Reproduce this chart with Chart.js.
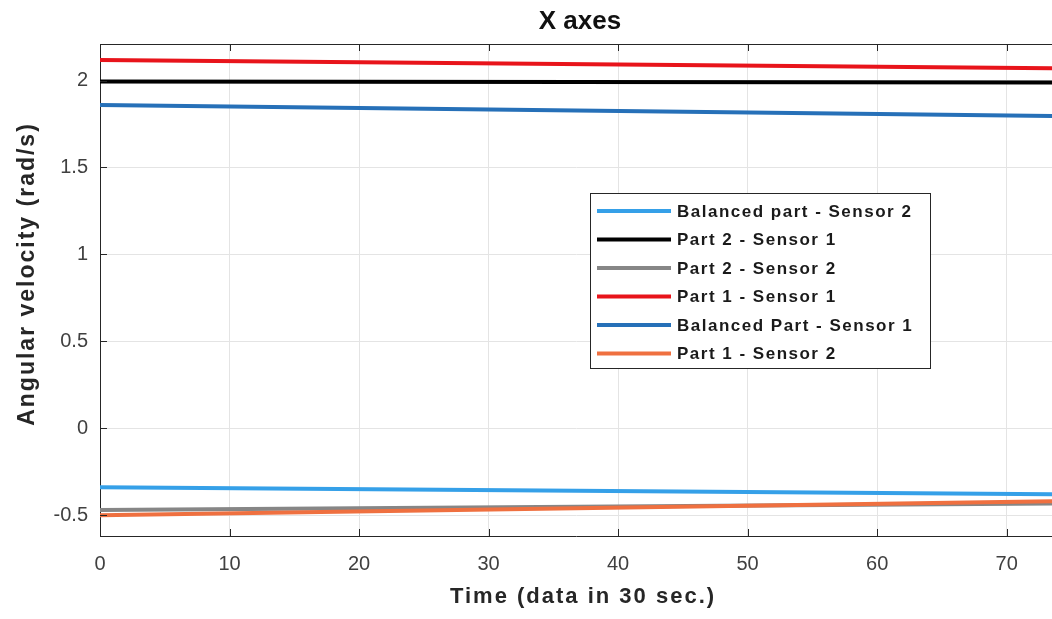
<!DOCTYPE html>
<html lang="en">
<head>
  <meta charset="UTF-8">
  <title>X axes</title>
  <script src="https://cdn.jsdelivr.net/npm/chart.js"></script>
  <style>
    html, body { margin: 0; padding: 0; background: #fff; }
    #wrap { width: 1052px; height: 619px; }
  </style>
</head>
<body>
  <div id="wrap"><canvas id="chart"></canvas></div>
  <script>
    // data (lines look straight, so endpoints only)
    const times = [0, 75];
    const balancedS2 = [-0.34, -0.38];
    const part2S1 = [1.995, 1.988];
    const part2S2 = [-0.47, -0.433];
    const part1S1 = [2.118, 2.07];
    const balancedS1 = [1.859, 1.795];
    const part1S2 = [-0.50, -0.418];

    const seriesNames = ['Balanced part - Sensor 2', 'Part 2 - Sensor 1', 'Part 2 - Sensor 2',
                         'Part 1 - Sensor 1', 'Balanced Part - Sensor 1', 'Part 1 - Sensor 2'];
    const seriesValues = [balancedS2, part2S1, part2S2, part1S1, balancedS1, part1S2];
    const seriesColors = ['#35a0e8', '#000000', '#868686', '#e8141b', '#2670b8', '#ef7040'];

    const xTicks = [0, 10, 20, 30, 40, 50, 60, 70];
    const yTicks = [-0.5, 0, 0.5, 1, 1.5, 2];

    const FONT = "'Liberation Sans', Arial, sans-serif";
    const AXIS = '#262626';

    const datasets = seriesNames.map((name, i) => ({
      label: name,
      data: times.map((t, k) => ({ x: t, y: seriesValues[i][k] })),
      borderColor: seriesColors[i],
      borderWidth: 4,
      pointRadius: 0,
      tension: 0,
      order: seriesNames.length - i   // later series on top, like the original
    }));

    // title, axis titles, inner ticks, top frame and the boxed legend
    const decor = {
      id: 'decor',
      afterDatasetsDraw(chart) {
        const ctx = chart.ctx;
        const a = chart.chartArea;
        const xs = chart.scales.x, ys = chart.scales.y;
        ctx.save();

        // frame top + inward ticks
        ctx.strokeStyle = AXIS;
        ctx.lineWidth = 1;
        ctx.beginPath();
        ctx.moveTo(a.left, a.top + 0.5);
        ctx.lineTo(a.right, a.top + 0.5);
        xTicks.forEach(v => {
          const px = Math.round(xs.getPixelForValue(v)) + 0.5;
          ctx.moveTo(px, a.bottom); ctx.lineTo(px, a.bottom - 7);
          ctx.moveTo(px, a.top); ctx.lineTo(px, a.top + 7);
        });
        yTicks.forEach(v => {
          const py = Math.round(ys.getPixelForValue(v)) + 0.5;
          ctx.moveTo(a.left, py); ctx.lineTo(a.left + 7, py);
        });
        ctx.stroke();

        // legend box
        const bx = 590, by = 193, bw = 340, bh = 175;
        ctx.fillStyle = '#fff';
        ctx.fillRect(bx, by, bw, bh);
        ctx.strokeRect(bx + 0.5, by + 0.5, bw, bh);
        ctx.font = 'bold 17px ' + FONT;
        ctx.letterSpacing = '1.5px';
        ctx.textBaseline = 'middle';
        ctx.textAlign = 'left';
        chart.data.datasets.forEach((ds, i) => {
          const y = 211 + i * 28.5;
          ctx.strokeStyle = ds.borderColor;
          ctx.lineWidth = 4;
          ctx.beginPath();
          ctx.moveTo(597, y); ctx.lineTo(671, y);
          ctx.stroke();
          ctx.fillStyle = '#1a1a1a';
          ctx.fillText(ds.label, 677, y + 1);
        });

        // chart title
        ctx.fillStyle = '#111';
        ctx.textAlign = 'center';
        ctx.letterSpacing = '0px';
        ctx.font = 'bold 26px ' + FONT;
        ctx.fillText('X axes', 580, 22);

        // axis titles
        ctx.fillStyle = AXIS;
        ctx.font = 'bold 22px ' + FONT;
        ctx.letterSpacing = '2px';
        ctx.fillText('Time (data in 30 sec.)', 583, 597);
        ctx.save();
        ctx.translate(28, 274);
        ctx.rotate(-Math.PI / 2);
        ctx.font = 'bold 23px ' + FONT;
        ctx.letterSpacing = '2px';
        ctx.fillText('Angular velocity (rad/s)', 0, 0);
        ctx.restore();

        ctx.restore();
      }
    };

    new Chart(document.getElementById('chart'), {
      type: 'line',
      data: { datasets },
      options: {
        responsive: true,
        maintainAspectRatio: false,
        animation: false,
        layout: { padding: { top: 44, left: 0, right: 0, bottom: 0 } },
        plugins: {
          legend: { display: false },
          title: { display: false },
          tooltip: { enabled: false }
        },
        scales: {
          x: {
            type: 'linear',
            min: 0,
            max: 73.5,
            afterBuildTicks: s => { s.ticks = xTicks.map(v => ({ value: v })); },
            afterFit: s => { s.height = 83; },
            grid: { color: '#e4e4e4', drawTicks: false },
            border: { color: AXIS, width: 1 },
            ticks: { padding: 16, color: '#404040', font: { family: FONT, size: 20 } }
          },
          y: {
            min: -0.62,
            max: 2.21,
            afterBuildTicks: s => { s.ticks = yTicks.map(v => ({ value: v })); },
            afterFit: s => { s.width = 100; },
            grid: { color: '#e4e4e4', drawTicks: false },
            border: { color: AXIS, width: 1 },
            ticks: {
              padding: 12,
              color: '#404040',
              font: { family: FONT, size: 20 },
              callback: v => String(v)
            }
          }
        }
      },
      plugins: [decor]
    });
  </script>
</body>
</html>
